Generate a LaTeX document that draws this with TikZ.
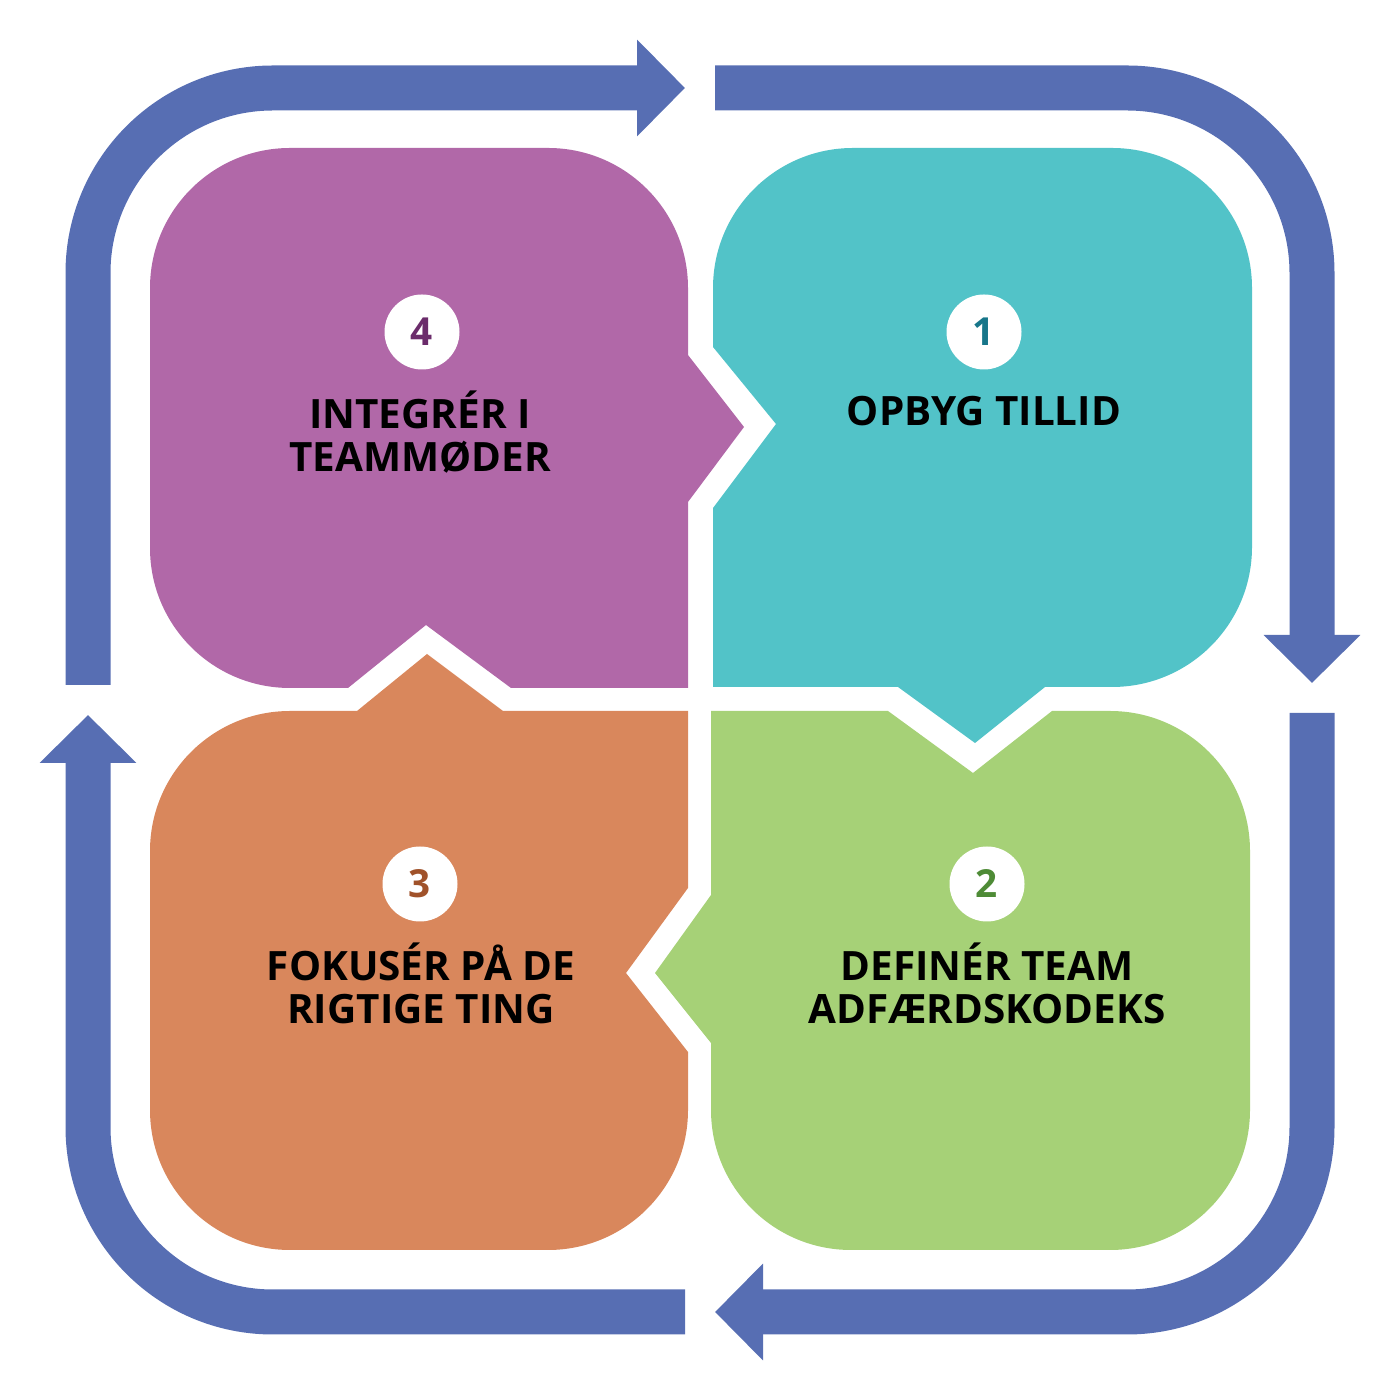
\documentclass[tikz,border=0pt]{standalone}
\usepackage{fontspec}
\setmainfont{Open Sans}
\usetikzlibrary{arrows.meta}
\definecolor{ringblue}{HTML}{576EB3}
\definecolor{tealc}{HTML}{52C3C8}
\definecolor{greenc}{HTML}{A6D177}
\definecolor{orangec}{HTML}{D9875C}
\definecolor{purplec}{HTML}{B168A8}
\definecolor{tealn}{HTML}{17768A}
\definecolor{greenn}{HTML}{4E8B36}
\definecolor{orangen}{HTML}{A0522A}
\definecolor{purplen}{HTML}{6B2C6B}
\begin{document}
\begin{tikzpicture}[
    ring/.style={draw=ringblue, line width=0.45cm, rounded corners=1.85cm,
        -{Triangle[length=0.48cm, width=0.94cm]}},
    num/.style={circle, fill=white, minimum size=0.75cm, inner sep=0pt,
        font=\fontsize{11}{11}\selectfont\bfseries},
    lbl/.style={align=center, font=\fontsize{11.5}{12.2}\selectfont\bfseries}
]
\useasboundingbox (0,0) rectangle (14,14);

% outer ring
\coordinate (tl) at (0.88,13.12);
\coordinate (tr) at (13.12,13.12);
\coordinate (br) at (13.12,0.88);
\coordinate (bl) at (0.88,0.88);
\coordinate (s1) at (0.88,7.15);
\coordinate (e1) at (6.85,13.12);
\coordinate (s2) at (7.15,13.12);
\coordinate (e2) at (13.12,7.17);
\coordinate (s3) at (13.12,6.87);
\coordinate (e3) at (7.15,0.88);
\coordinate (s4) at (6.85,0.88);
\coordinate (e4) at (0.88,6.85);
\draw[ring] (s1) -- (tl) -- (e1);
\draw[ring] (s2) -- (tr) -- (e2);
\draw[ring] (s3) -- (br) -- (e3);
\draw[ring] (s4) -- (bl) -- (e4);

% tiles
\fill[purplec] (1.50,8.52) -- (1.50,11.12) arc[start angle=180, end angle=90, radius=1.4]
    -- (5.48,12.52) arc[start angle=90, end angle=0, radius=1.4]
    -- (6.88,10.45) -- (7.44,9.73) -- (6.88,8.98) -- (6.88,7.12)
    -- (5.11,7.12) -- (4.26,7.75) -- (3.48,7.12)
    -- (2.90,7.12) arc[start angle=270, end angle=180, radius=1.4] -- cycle;
\fill[tealc] (7.13,7.13) -- (7.13,8.92) -- (7.76,9.76) -- (7.13,10.53)
    -- (7.13,11.12) arc[start angle=180, end angle=90, radius=1.4]
    -- (11.12,12.52) arc[start angle=90, end angle=0, radius=1.4]
    -- (12.52,8.53) arc[start angle=0, end angle=-90, radius=1.4]
    -- (10.45,7.13) -- (9.75,6.57) -- (8.98,7.13) -- cycle;
\fill[greenc] (7.11,6.89) -- (8.88,6.89) -- (9.73,6.27) -- (10.52,6.89)
    -- (11.10,6.89) arc[start angle=90, end angle=0, radius=1.4]
    -- (12.50,2.90) arc[start angle=0, end angle=-90, radius=1.4]
    -- (8.51,1.50) arc[start angle=270, end angle=180, radius=1.4]
    -- (7.11,3.57) -- (6.55,4.27) -- (7.11,5.05) -- cycle;
\fill[orangec] (1.50,2.90) -- (1.50,5.49) arc[start angle=180, end angle=90, radius=1.4]
    -- (3.57,6.89) -- (4.27,7.46) -- (5.03,6.89) -- (6.88,6.89)
    -- (6.88,5.12) -- (6.26,4.27) -- (6.88,3.48)
    -- (6.88,2.90) arc[start angle=0, end angle=-90, radius=1.4]
    -- (2.90,1.50) arc[start angle=270, end angle=180, radius=1.4] -- cycle;

% numbers and labels
\node[num, text=tealn] (n1) at (9.84,10.68) {1};
\node[num, text=greenn] (n2) at (9.87,5.16) {2};
\node[num, text=orangen] (n3) at (4.20,5.16) {3};
\node[num, text=purplen] (n4) at (4.22,10.68) {4};
\node[lbl] (l1) at (9.84,9.89) {OPBYG TILLID};
\node[lbl] (l2) at (9.87,4.17) {DEFINÉR TEAM\\ADFÆRDSKODEKS};
\node[lbl] (l3) at (4.21,4.17) {FOKUSÉR PÅ DE\\RIGTIGE TING};
\node[lbl] (l4) at (4.20,9.68) {INTEGRÉR I\\TEAMMØDER};
\end{tikzpicture}
\end{document}
